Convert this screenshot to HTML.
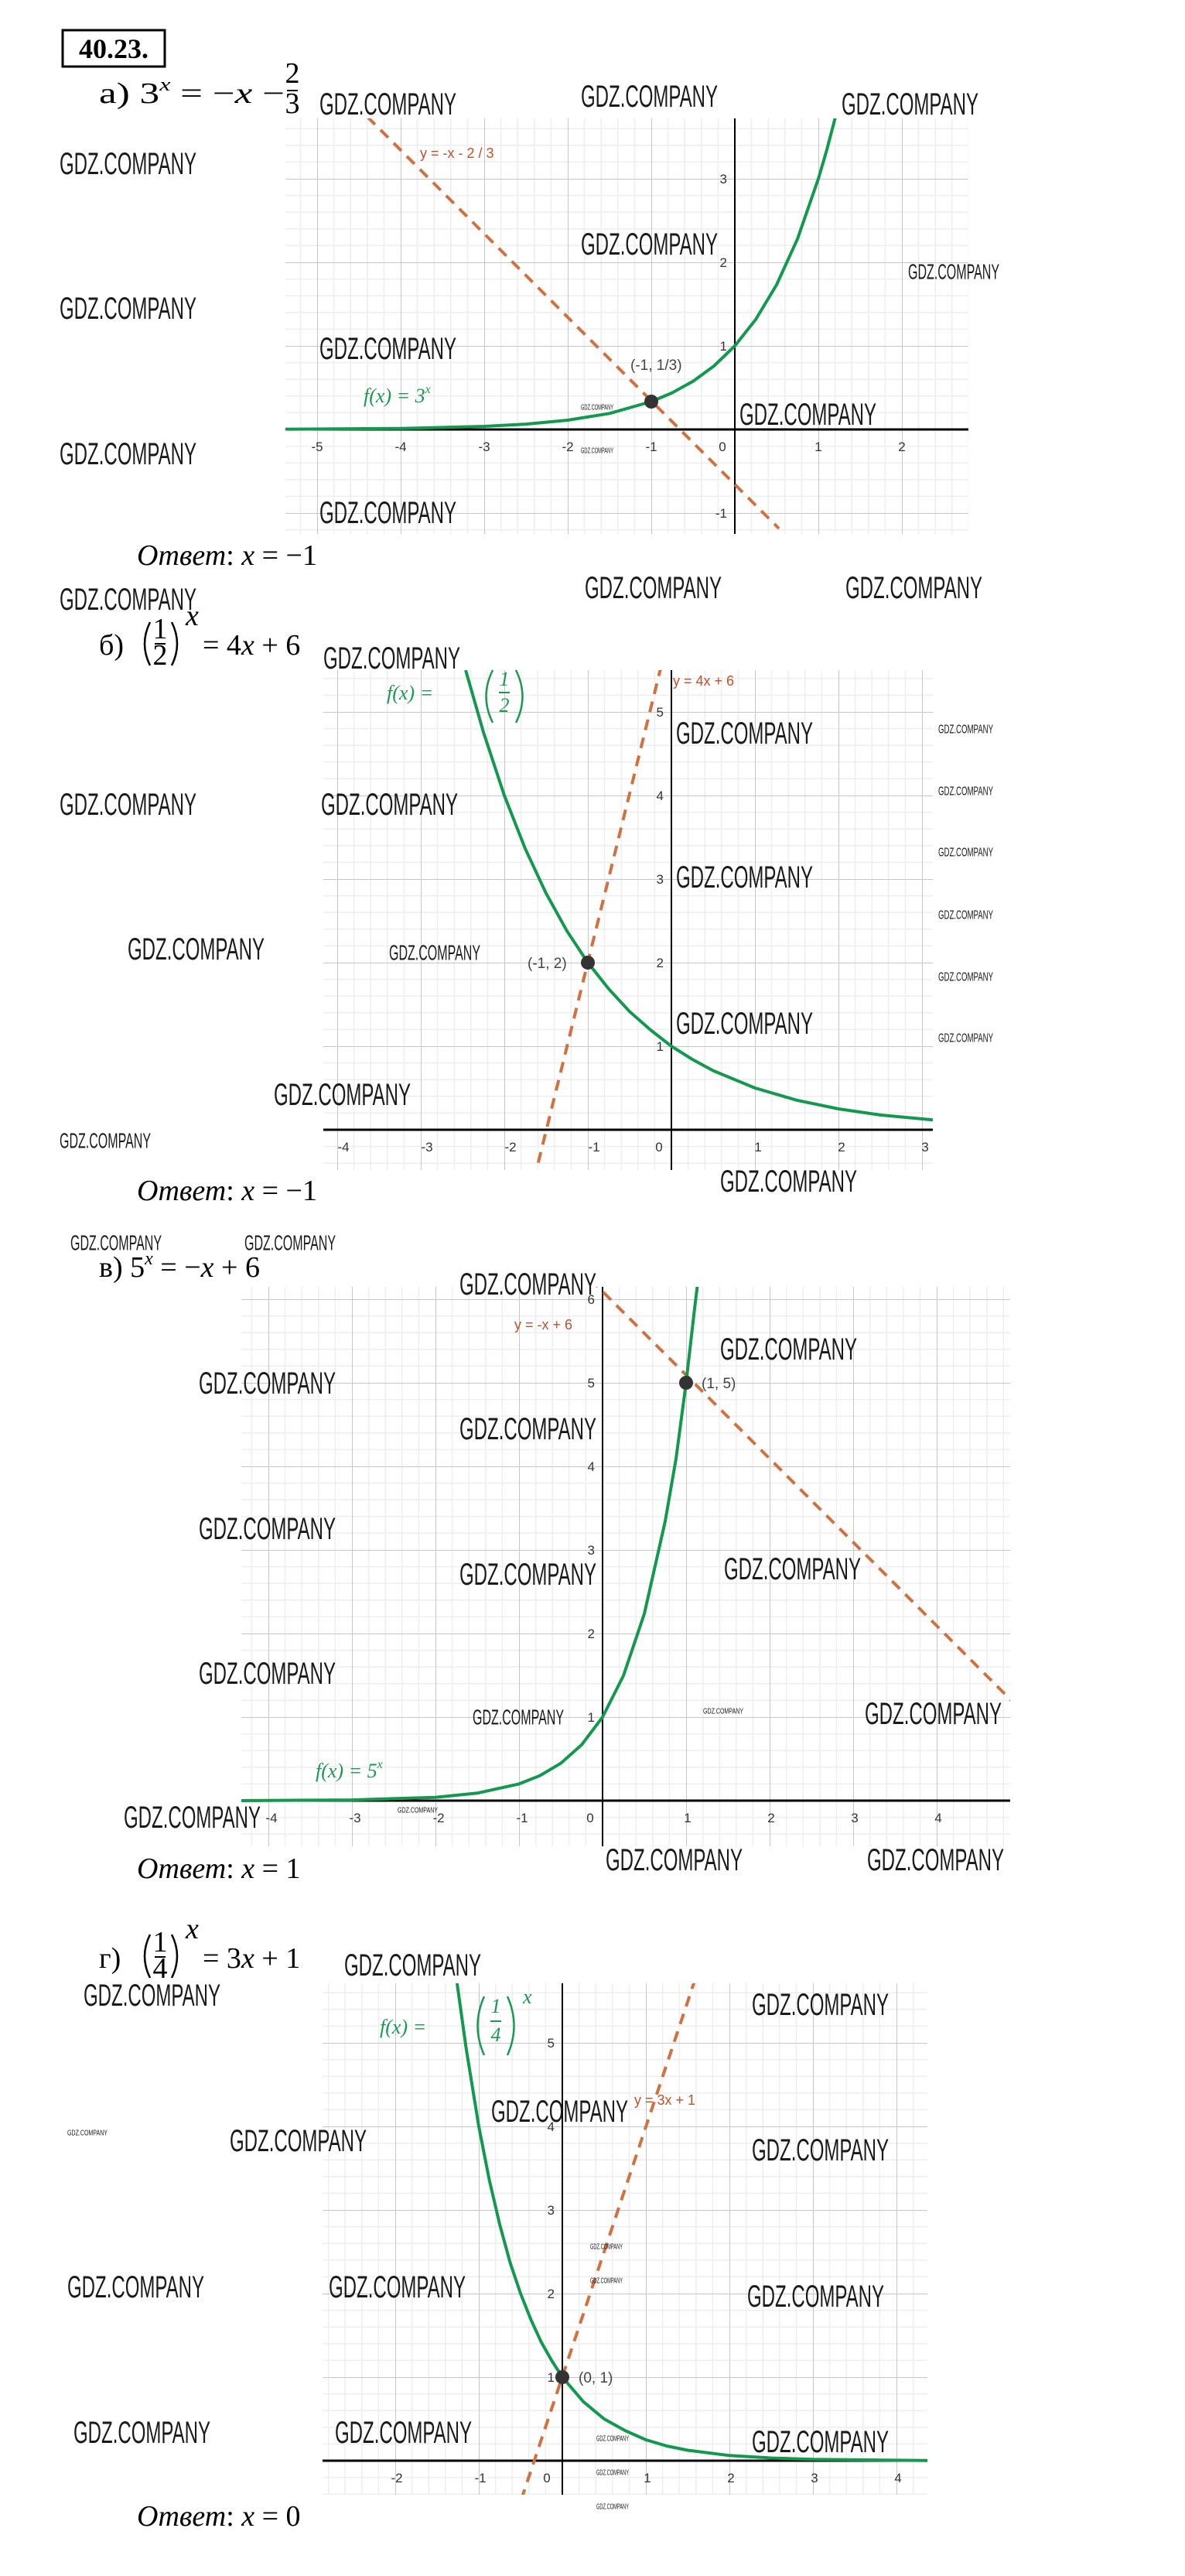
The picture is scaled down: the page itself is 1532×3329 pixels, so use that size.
<!DOCTYPE html>
<html><head><meta charset="utf-8"><style>
html,body{margin:0;padding:0;background:#fff}
svg{display:block}
.wm{font-family:"Liberation Sans Narrow","Liberation Sans",sans-serif;fill:#1a1a1a;dominant-baseline:central}
.tk{font-family:"Liberation Sans",sans-serif;font-size:17px;fill:#333}
.eq{font-family:"Liberation Serif",serif;font-size:38px;fill:#000}
.ans{font-family:"Liberation Serif",serif;font-size:38px;fill:#000}
.gr{font-family:"Liberation Serif",serif;font-style:italic;font-size:26px;fill:#1a9950}
.or{font-family:"Liberation Sans",sans-serif;font-size:18px;fill:#c0502a}
.pt{font-family:"Liberation Sans",sans-serif;font-size:19px;fill:#444}
.cv{fill:none;stroke:#13994f;stroke-width:4;stroke-linejoin:round}
.ln{fill:none;stroke:#d2703f;stroke-width:4;stroke-dasharray:14 10}
.par{fill:none;stroke:#000;stroke-width:2.5}
.pg{fill:none;stroke:#1a9950;stroke-width:2.5}
</style></head><body>
<svg width="1532" height="3329" viewBox="0 0 1532 3329" xmlns="http://www.w3.org/2000/svg">
<defs>
<pattern id="pa" x="950" y="555" width="108" height="108" patternUnits="userSpaceOnUse">
<path d="M21.6 0V108M43.2 0V108M64.8 0V108M86.4 0V108M0 21.6H108M0 43.2H108M0 64.8H108M0 86.4H108" stroke="#eeeeee" stroke-width="1.5"/>
<path d="M0 0V108M0 0H108" stroke="#c6c6c6" stroke-width="2"/></pattern>
<pattern id="pb" x="868" y="1460" width="108" height="108" patternUnits="userSpaceOnUse">
<path d="M21.6 0V108M43.2 0V108M64.8 0V108M86.4 0V108M0 21.6H108M0 43.2H108M0 64.8H108M0 86.4H108" stroke="#eeeeee" stroke-width="1.5"/>
<path d="M0 0V108M0 0H108" stroke="#c6c6c6" stroke-width="2"/></pattern>
<pattern id="pc" x="779" y="2327" width="108" height="108" patternUnits="userSpaceOnUse">
<path d="M21.6 0V108M43.2 0V108M64.8 0V108M86.4 0V108M0 21.6H108M0 43.2H108M0 64.8H108M0 86.4H108" stroke="#eeeeee" stroke-width="1.5"/>
<path d="M0 0V108M0 0H108" stroke="#c6c6c6" stroke-width="2"/></pattern>
<pattern id="pd" x="727" y="3180" width="108" height="108" patternUnits="userSpaceOnUse">
<path d="M21.6 0V108M43.2 0V108M64.8 0V108M86.4 0V108M0 21.6H108M0 43.2H108M0 64.8H108M0 86.4H108" stroke="#eeeeee" stroke-width="1.5"/>
<path d="M0 0V108M0 0H108" stroke="#c6c6c6" stroke-width="2"/></pattern>
<clipPath id="ca"><rect x="369" y="153" width="883" height="537"/></clipPath>
<clipPath id="cb"><rect x="418" y="866" width="788" height="646"/></clipPath>
<clipPath id="cc"><rect x="312" y="1663" width="994" height="723"/></clipPath>
<clipPath id="cd"><rect x="417" y="2563" width="782" height="661"/></clipPath>
</defs>

<rect x="81" y="39" width="132" height="47" fill="none" stroke="#000" stroke-width="3"/>
<text x="147" y="75" text-anchor="middle" style="font-family:'Liberation Serif',serif;font-weight:bold;font-size:36px">40.23.</text>

<!-- ===== A ===== -->
<text class="eq" x="128" y="133" textLength="240" lengthAdjust="spacingAndGlyphs">а)  3<tspan font-style="italic" font-size="24" dy="-16">x</tspan><tspan dy="16"> = −</tspan><tspan font-style="italic">x</tspan> −</text>
<text class="eq" x="378" y="107" text-anchor="middle" font-size="24">2</text>
<line x1="371" y1="117" x2="385" y2="117" stroke="#000" stroke-width="2"/>
<text class="eq" x="378" y="146" text-anchor="middle" font-size="24">3</text>
<g>
<rect x="369" y="153" width="883" height="537" fill="url(#pa)"/>
<line x1="369" y1="555" x2="1252" y2="555" stroke="#000" stroke-width="3"/>
<line x1="950" y1="153" x2="950" y2="690" stroke="#000" stroke-width="2"/>
<g class="tk" text-anchor="middle"><text x="410" y="583">-5</text><text x="518" y="583">-4</text><text x="626" y="583">-3</text><text x="734" y="583">-2</text><text x="842" y="583">-1</text><text x="934" y="583">0</text><text x="1058" y="583">1</text><text x="1166" y="583">2</text></g>
<g class="tk" text-anchor="end"><text x="940" y="453">1</text><text x="940" y="345">2</text><text x="940" y="237">3</text><text x="940" y="669">-1</text></g>
<g clip-path="url(#ca)">
<polyline class="ln" points="475,151 1007,683"/>
<polyline class="cv" points="367,554.7 518,553.7 626,551 680,548.1 734,543 788,534.3 842,519 869,507.6 896,492.7 923,473 950,447 977,412.9 1004,368 1031,308.8 1058,231 1069,193.4 1080,151.4"/>
</g>
<circle cx="842" cy="519" r="9" fill="#333"/>
<text class="pt" x="815" y="478">(-1,  1/3)</text>
<text class="or" x="543" y="204">y = -x - 2 / 3</text>
<text class="gr" x="470" y="520">f(x)  =  3<tspan font-size="16" dy="-12">x</tspan></text>
</g>
<text class="ans" x="177" y="730"><tspan font-style="italic">Ответ</tspan>: <tspan font-style="italic">x</tspan> = −1</text>

<!-- ===== B ===== -->
<text class="eq" x="128" y="846">б)</text>
<path class="par" d="M194 804 Q180 832 194 860"/>
<text class="eq" x="207" y="825" text-anchor="middle" font-size="24">1</text>
<line x1="200" y1="832" x2="214" y2="832" stroke="#000" stroke-width="2"/>
<text class="eq" x="207" y="859" text-anchor="middle" font-size="24">2</text>
<path class="par" d="M222 804 Q236 832 222 860"/>
<text class="eq" x="240" y="808" font-style="italic" font-size="24">x</text>
<text class="eq" x="262" y="846">= 4<tspan font-style="italic">x</tspan> + 6</text>
<g>
<rect x="418" y="866" width="788" height="646" fill="url(#pb)"/>
<line x1="418" y1="1460" x2="1206" y2="1460" stroke="#000" stroke-width="3"/>
<line x1="868" y1="866" x2="868" y2="1512" stroke="#000" stroke-width="2"/>
<g class="tk" text-anchor="middle"><text x="444" y="1488">-4</text><text x="552" y="1488">-3</text><text x="660" y="1488">-2</text><text x="768" y="1488">-1</text><text x="852" y="1488">0</text><text x="980" y="1488">1</text><text x="1088" y="1488">2</text><text x="1196" y="1488">3</text></g>
<g class="tk" text-anchor="end"><text x="858" y="1358">1</text><text x="858" y="1250">2</text><text x="858" y="1142">3</text><text x="858" y="1034">4</text><text x="858" y="926">5</text></g>
<g clip-path="url(#cb)">
<polyline class="ln" points="855,860 692,1518"/>
<polyline class="cv" points="602,866 625,946.2 652,1028 679,1096.7 706,1154.5 733,1203.2 760,1244 787,1278 814,1307.3 841,1331 868,1352 895,1369 922,1383.6 976,1406 1030,1421.8 1084,1433 1138,1440.9 1206,1447.3"/>
</g>
<circle cx="760" cy="1244" r="9" fill="#333"/>
<text class="pt" x="682" y="1251">(-1, 2)</text>
<text class="or" x="870" y="886">y = 4x + 6</text>
<text class="gr" x="500" y="904">f(x)  =</text>
<path class="pg" d="M637 866 Q620 900 637 934"/>
<text x="652" y="886" text-anchor="middle" class="gr" font-style="normal" font-size="22">1</text>
<line x1="645" y1="895" x2="659" y2="895" stroke="#1a9950" stroke-width="2"/>
<text x="652" y="920" text-anchor="middle" class="gr" font-style="normal" font-size="22">2</text>
<path class="pg" d="M667 866 Q684 900 667 934"/>
</g>
<text class="ans" x="177" y="1551"><tspan font-style="italic">Ответ</tspan>: <tspan font-style="italic">x</tspan> = −1</text>

<!-- ===== C ===== -->
<text class="eq" x="128" y="1650">в)  5<tspan font-style="italic" font-size="24" dy="-16">x</tspan><tspan dy="16"> = −</tspan><tspan font-style="italic">x</tspan> + 6</text>
<g>
<rect x="312" y="1663" width="994" height="723" fill="url(#pc)"/>
<line x1="312" y1="2327" x2="1306" y2="2327" stroke="#000" stroke-width="3"/>
<line x1="779" y1="1663" x2="779" y2="2386" stroke="#000" stroke-width="2"/>
<g class="tk" text-anchor="middle"><text x="351" y="2355">-4</text><text x="459" y="2355">-3</text><text x="567" y="2355">-2</text><text x="675" y="2355">-1</text><text x="763" y="2355">0</text><text x="889" y="2355">1</text><text x="997" y="2355">2</text><text x="1105" y="2355">3</text><text x="1213" y="2355">4</text></g>
<g class="tk" text-anchor="end"><text x="769" y="2225">1</text><text x="769" y="2117">2</text><text x="769" y="2009">3</text><text x="769" y="1901">4</text><text x="769" y="1793">5</text><text x="769" y="1685">6</text></g>
<g clip-path="url(#cc)">
<polyline class="ln" points="763,1653 1310,2200"/>
<polyline class="cv" points="310,2327 455,2326.1 563,2322.7 617,2317.3 671,2305.4 698,2294.7 725,2278.7 752,2254.8 779,2219 806,2165.5 833,2085.5 860,1965.8 874,1885 887,1787 897.8,1692.7 902,1658"/>
</g>
<circle cx="887" cy="1787" r="9" fill="#333"/>
<text class="pt" x="907" y="1794">(1, 5)</text>
<text class="or" x="665" y="1718">y = -x + 6</text>
<text class="gr" x="408" y="2297">f(x)  =  5<tspan font-size="16" dy="-12">x</tspan></text>
</g>
<text class="ans" x="177" y="2427"><tspan font-style="italic">Ответ</tspan>: <tspan font-style="italic">x</tspan> = 1</text>

<!-- ===== D ===== -->
<text class="eq" x="128" y="2543">г)</text>
<path class="par" d="M194 2500 Q180 2528 194 2556"/>
<text class="eq" x="207" y="2522" text-anchor="middle" font-size="24">1</text>
<line x1="200" y1="2529" x2="214" y2="2529" stroke="#000" stroke-width="2"/>
<text class="eq" x="207" y="2556" text-anchor="middle" font-size="24">4</text>
<path class="par" d="M222 2500 Q236 2528 222 2556"/>
<text class="eq" x="240" y="2505" font-style="italic" font-size="24">x</text>
<text class="eq" x="262" y="2543">= 3<tspan font-style="italic">x</tspan> + 1</text>
<g>
<rect x="417" y="2563" width="782" height="661" fill="url(#pd)"/>
<line x1="417" y1="3180" x2="1199" y2="3180" stroke="#000" stroke-width="3"/>
<line x1="727" y1="2563" x2="727" y2="3224" stroke="#000" stroke-width="2"/>
<g class="tk" text-anchor="middle"><text x="513" y="3208">-2</text><text x="621" y="3208">-1</text><text x="707" y="3208">0</text><text x="837" y="3208">1</text><text x="945" y="3208">2</text><text x="1053" y="3208">3</text><text x="1161" y="3208">4</text></g>
<g class="tk" text-anchor="end"><text x="717" y="3078">1</text><text x="717" y="2970">2</text><text x="717" y="2862">3</text><text x="717" y="2754">4</text><text x="717" y="2646">5</text></g>
<g clip-path="url(#cd)">
<polyline class="ln" points="899,2557 674,3230"/>
<polyline class="cv" points="590.5,2560 602.8,2648.1 619,2748 632.5,2816.7 646,2874.6 659.5,2924 673,2964 686.5,2998 700,3027.3 713.5,3051 727,3072 754,3103.6 781,3126 808,3141 835,3153 862,3161 889,3166.5 943,3173.3 997,3176.5 1051,3178.3 1199,3179.8"/>
</g>
<circle cx="727" cy="3072" r="9" fill="#333"/>
<text class="pt" x="748" y="3079">(0, 1)</text>
<text class="or" x="820" y="2720">y = 3x + 1</text>
<text class="gr" x="491" y="2628">f(x)  =</text>
<path class="pg" d="M626 2580 Q609 2618 626 2656"/>
<text x="641" y="2601" text-anchor="middle" class="gr" font-style="normal" font-size="22">1</text>
<line x1="634" y1="2612" x2="648" y2="2612" stroke="#1a9950" stroke-width="2"/>
<text x="641" y="2638" text-anchor="middle" class="gr" font-style="normal" font-size="22">4</text>
<path class="pg" d="M656 2580 Q673 2618 656 2656"/>
<text x="676" y="2589" class="gr" font-size="16">x</text>
</g>
<text class="ans" x="177" y="3264"><tspan font-style="italic">Ответ</tspan>: <tspan font-style="italic">x</tspan> = 0</text>

<g class="wm" font-size="40">
<text x="413" y="135" textLength="177" lengthAdjust="spacingAndGlyphs">GDZ.COMPANY</text>
<text x="751" y="125" textLength="177" lengthAdjust="spacingAndGlyphs">GDZ.COMPANY</text>
<text x="1088" y="135" textLength="177" lengthAdjust="spacingAndGlyphs">GDZ.COMPANY</text>
<text x="77" y="212" textLength="177" lengthAdjust="spacingAndGlyphs">GDZ.COMPANY</text>
<text x="751" y="316" textLength="177" lengthAdjust="spacingAndGlyphs">GDZ.COMPANY</text>
<text x="77" y="399" textLength="177" lengthAdjust="spacingAndGlyphs">GDZ.COMPANY</text>
<text x="413" y="451" textLength="177" lengthAdjust="spacingAndGlyphs">GDZ.COMPANY</text>
<text x="956" y="536" textLength="177" lengthAdjust="spacingAndGlyphs">GDZ.COMPANY</text>
<text x="77" y="587" textLength="177" lengthAdjust="spacingAndGlyphs">GDZ.COMPANY</text>
<text x="413" y="663" textLength="177" lengthAdjust="spacingAndGlyphs">GDZ.COMPANY</text>
<text x="756" y="760" textLength="177" lengthAdjust="spacingAndGlyphs">GDZ.COMPANY</text>
<text x="1093" y="760" textLength="177" lengthAdjust="spacingAndGlyphs">GDZ.COMPANY</text>
<text x="77" y="775" textLength="177" lengthAdjust="spacingAndGlyphs">GDZ.COMPANY</text>
<text x="418" y="851" textLength="177" lengthAdjust="spacingAndGlyphs">GDZ.COMPANY</text>
<text x="874" y="948" textLength="177" lengthAdjust="spacingAndGlyphs">GDZ.COMPANY</text>
<text x="77" y="1040" textLength="177" lengthAdjust="spacingAndGlyphs">GDZ.COMPANY</text>
<text x="415" y="1040" textLength="177" lengthAdjust="spacingAndGlyphs">GDZ.COMPANY</text>
<text x="874" y="1134" textLength="177" lengthAdjust="spacingAndGlyphs">GDZ.COMPANY</text>
<text x="165" y="1227" textLength="177" lengthAdjust="spacingAndGlyphs">GDZ.COMPANY</text>
<text x="874" y="1323" textLength="177" lengthAdjust="spacingAndGlyphs">GDZ.COMPANY</text>
<text x="354" y="1415" textLength="177" lengthAdjust="spacingAndGlyphs">GDZ.COMPANY</text>
<text x="931" y="1527" textLength="177" lengthAdjust="spacingAndGlyphs">GDZ.COMPANY</text>
<text x="594" y="1660" textLength="177" lengthAdjust="spacingAndGlyphs">GDZ.COMPANY</text>
<text x="931" y="1744" textLength="177" lengthAdjust="spacingAndGlyphs">GDZ.COMPANY</text>
<text x="257" y="1788" textLength="177" lengthAdjust="spacingAndGlyphs">GDZ.COMPANY</text>
<text x="594" y="1847" textLength="177" lengthAdjust="spacingAndGlyphs">GDZ.COMPANY</text>
<text x="257" y="1976" textLength="177" lengthAdjust="spacingAndGlyphs">GDZ.COMPANY</text>
<text x="594" y="2035" textLength="177" lengthAdjust="spacingAndGlyphs">GDZ.COMPANY</text>
<text x="936" y="2028" textLength="177" lengthAdjust="spacingAndGlyphs">GDZ.COMPANY</text>
<text x="257" y="2163" textLength="177" lengthAdjust="spacingAndGlyphs">GDZ.COMPANY</text>
<text x="1118" y="2215" textLength="177" lengthAdjust="spacingAndGlyphs">GDZ.COMPANY</text>
<text x="160" y="2349" textLength="177" lengthAdjust="spacingAndGlyphs">GDZ.COMPANY</text>
<text x="783" y="2404" textLength="177" lengthAdjust="spacingAndGlyphs">GDZ.COMPANY</text>
<text x="1121" y="2404" textLength="177" lengthAdjust="spacingAndGlyphs">GDZ.COMPANY</text>
<text x="445" y="2540" textLength="177" lengthAdjust="spacingAndGlyphs">GDZ.COMPANY</text>
<text x="108" y="2579" textLength="177" lengthAdjust="spacingAndGlyphs">GDZ.COMPANY</text>
<text x="972" y="2591" textLength="177" lengthAdjust="spacingAndGlyphs">GDZ.COMPANY</text>
<text x="297" y="2767" textLength="177" lengthAdjust="spacingAndGlyphs">GDZ.COMPANY</text>
<text x="635" y="2729" textLength="177" lengthAdjust="spacingAndGlyphs">GDZ.COMPANY</text>
<text x="972" y="2779" textLength="177" lengthAdjust="spacingAndGlyphs">GDZ.COMPANY</text>
<text x="87" y="2956" textLength="177" lengthAdjust="spacingAndGlyphs">GDZ.COMPANY</text>
<text x="425" y="2956" textLength="177" lengthAdjust="spacingAndGlyphs">GDZ.COMPANY</text>
<text x="966" y="2968" textLength="177" lengthAdjust="spacingAndGlyphs">GDZ.COMPANY</text>
<text x="95" y="3144" textLength="177" lengthAdjust="spacingAndGlyphs">GDZ.COMPANY</text>
<text x="433" y="3144" textLength="177" lengthAdjust="spacingAndGlyphs">GDZ.COMPANY</text>
<text x="972" y="3156" textLength="177" lengthAdjust="spacingAndGlyphs">GDZ.COMPANY</text>
</g>
<g class="wm" font-size="28">
<text x="1174" y="351" textLength="118" lengthAdjust="spacingAndGlyphs">GDZ.COMPANY</text>
<text x="503" y="1231" textLength="118" lengthAdjust="spacingAndGlyphs">GDZ.COMPANY</text>
<text x="77" y="1474" textLength="118" lengthAdjust="spacingAndGlyphs">GDZ.COMPANY</text>
<text x="91" y="1606" textLength="118" lengthAdjust="spacingAndGlyphs">GDZ.COMPANY</text>
<text x="316" y="1606" textLength="118" lengthAdjust="spacingAndGlyphs">GDZ.COMPANY</text>
<text x="611" y="2219" textLength="118" lengthAdjust="spacingAndGlyphs">GDZ.COMPANY</text>
</g>
<g class="wm" font-size="16" fill="#444">
<text x="1213" y="943" textLength="71" lengthAdjust="spacingAndGlyphs">GDZ.COMPANY</text>
<text x="1213" y="1023" textLength="71" lengthAdjust="spacingAndGlyphs">GDZ.COMPANY</text>
<text x="1213" y="1102" textLength="71" lengthAdjust="spacingAndGlyphs">GDZ.COMPANY</text>
<text x="1213" y="1183" textLength="71" lengthAdjust="spacingAndGlyphs">GDZ.COMPANY</text>
<text x="1213" y="1263" textLength="71" lengthAdjust="spacingAndGlyphs">GDZ.COMPANY</text>
<text x="1213" y="1342" textLength="71" lengthAdjust="spacingAndGlyphs">GDZ.COMPANY</text>
</g>
<g class="wm" font-size="10" fill="#666">
<text x="751" y="527" textLength="42" lengthAdjust="spacingAndGlyphs">GDZ.COMPANY</text>
<text x="751" y="583" textLength="42" lengthAdjust="spacingAndGlyphs">GDZ.COMPANY</text>
<text x="909" y="2212" textLength="52" lengthAdjust="spacingAndGlyphs">GDZ.COMPANY</text>
<text x="514" y="2340" textLength="52" lengthAdjust="spacingAndGlyphs">GDZ.COMPANY</text>
<text x="87" y="2757" textLength="52" lengthAdjust="spacingAndGlyphs">GDZ.COMPANY</text>
<text x="763" y="2904" textLength="42" lengthAdjust="spacingAndGlyphs">GDZ.COMPANY</text>
<text x="763" y="2948" textLength="42" lengthAdjust="spacingAndGlyphs">GDZ.COMPANY</text>
<text x="771" y="3152" textLength="42" lengthAdjust="spacingAndGlyphs">GDZ.COMPANY</text>
<text x="771" y="3196" textLength="42" lengthAdjust="spacingAndGlyphs">GDZ.COMPANY</text>
<text x="771" y="3240" textLength="42" lengthAdjust="spacingAndGlyphs">GDZ.COMPANY</text>
</g>
</svg>
</body></html>
